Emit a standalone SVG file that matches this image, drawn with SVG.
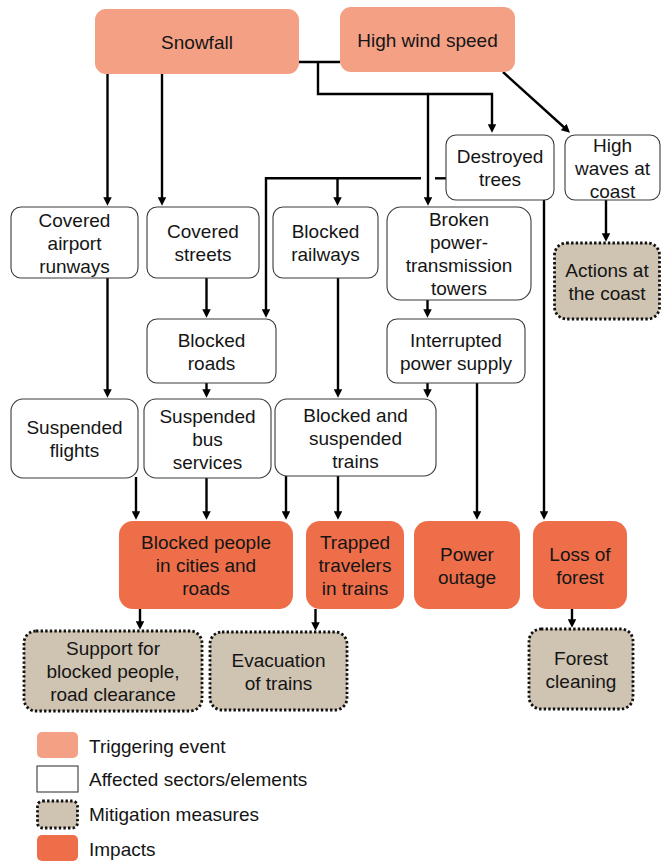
<svg xmlns="http://www.w3.org/2000/svg" width="661" height="863" viewBox="0 0 661 863">
  <style>
    text { font-family: "Liberation Sans", Arial, sans-serif; font-size: 19px; fill: #151515; text-anchor: middle; }
    .legend text { text-anchor: start; }
    .trigger { fill: #F4A085; }
    .affected { fill: #FFFFFF; stroke: #3a3a3a; stroke-width: 1.1; }
    .mitigation { fill: #CFC3B1; stroke: #111; stroke-width: 2.8; stroke-dasharray: 2.4 2.2; }
    .impact { fill: #EE6E4A; }
    .conn line, .conn polyline { fill: none; stroke: #000; stroke-width: 2.4; }
    .arrow { marker-end: url(#head); }
  </style>
  <defs>
    <marker id="head" viewBox="0 0 10 10" refX="4.4" refY="5" markerUnits="userSpaceOnUse" markerWidth="9" markerHeight="8.5" orient="auto">
      <path d="M0,0 L10,5 L0,10 z" fill="#000"/>
    </marker>
  </defs>

  <!-- connectors -->
  <g id="connectors" class="conn">
    <!-- Snowfall to the covered surfaces -->
    <line class="arrow" x1="107.5" y1="74" x2="107.5" y2="201"/>
    <line class="arrow" x1="162" y1="74" x2="162" y2="201"/>
    <!-- joint trigger bus -->
    <line x1="299" y1="62" x2="340" y2="62"/>
    <polyline class="arrow" points="318,62 318,94 492,94 492,128"/>
    <line class="arrow" x1="428" y1="94" x2="428" y2="201"/>
    <!-- wind to waves -->
    <line class="arrow" x1="503" y1="72" x2="566.5" y2="129.5"/>
    <!-- destroyed trees branch (with a jump over the tower line) -->
    <line x1="446" y1="178.3" x2="435" y2="178.3"/>
    <polyline class="arrow" points="421,178.3 266,178.3 266,313"/>
    <line class="arrow" x1="337.5" y1="178.3" x2="337.5" y2="201"/>
    <line class="arrow" x1="544" y1="200" x2="544" y2="515"/>
    <!-- waves to actions -->
    <line class="arrow" x1="606" y1="200" x2="606" y2="237"/>
    <!-- second row -->
    <line class="arrow" x1="107.5" y1="278" x2="107.5" y2="393"/>
    <line class="arrow" x1="206.5" y1="278" x2="206.5" y2="313"/>
    <line class="arrow" x1="338" y1="278" x2="338" y2="393"/>
    <line class="arrow" x1="427.5" y1="300" x2="427.5" y2="313"/>
    <line class="arrow" x1="206.5" y1="383" x2="206.5" y2="393"/>
    <line class="arrow" x1="427.5" y1="383" x2="427.5" y2="393"/>
    <line class="arrow" x1="477" y1="383" x2="477" y2="515"/>
    <!-- into impacts -->
    <line class="arrow" x1="136" y1="477" x2="136" y2="515"/>
    <line class="arrow" x1="206.5" y1="478" x2="206.5" y2="515"/>
    <line class="arrow" x1="286" y1="476" x2="286" y2="515"/>
    <line class="arrow" x1="338" y1="476" x2="338" y2="515"/>
    <!-- into mitigation -->
    <line class="arrow" x1="140" y1="609" x2="140" y2="625"/>
    <line class="arrow" x1="315.5" y1="609" x2="315.5" y2="626"/>
    <line class="arrow" x1="572" y1="609" x2="572" y2="623"/>
  </g>

  <!-- triggering events -->
  <g id="snowfall">
    <rect class="trigger" x="95" y="9" width="204" height="65" rx="11"/>
    <text x="197" y="49">Snowfall</text>
  </g>
  <g id="high-wind-speed">
    <rect class="trigger" x="340" y="7" width="175" height="65" rx="11"/>
    <text x="427.5" y="47">High wind speed</text>
  </g>

  <!-- affected sectors / elements -->
  <g id="destroyed-trees">
    <rect class="affected" x="446" y="135" width="108" height="65" rx="10"/>
    <text x="500" y="163">Destroyed</text>
    <text x="500" y="186">trees</text>
  </g>
  <g id="high-waves">
    <rect class="affected" x="565" y="135" width="95" height="65" rx="10"/>
    <text x="612.5" y="151.5">High</text>
    <text x="612.5" y="174.5">waves at</text>
    <text x="612.5" y="197.5">coast</text>
  </g>
  <g id="covered-runways">
    <rect class="affected" x="11" y="207" width="127" height="71" rx="10"/>
    <text x="74.5" y="226.5">Covered</text>
    <text x="74.5" y="249.5">airport</text>
    <text x="74.5" y="272.5">runways</text>
  </g>
  <g id="covered-streets">
    <rect class="affected" x="147" y="207" width="112" height="71" rx="10"/>
    <text x="203" y="238">Covered</text>
    <text x="203" y="261">streets</text>
  </g>
  <g id="blocked-railways">
    <rect class="affected" x="273" y="207" width="105" height="71" rx="10"/>
    <text x="325.5" y="238">Blocked</text>
    <text x="325.5" y="261">railways</text>
  </g>
  <g id="broken-towers">
    <rect class="affected" x="387" y="207" width="144" height="93" rx="14"/>
    <text x="459" y="226">Broken</text>
    <text x="459" y="249">power-</text>
    <text x="459" y="272">transmission</text>
    <text x="459" y="295">towers</text>
  </g>
  <g id="interrupted-power">
    <rect class="affected" x="387" y="319" width="138" height="64" rx="10"/>
    <text x="456" y="346.5">Interrupted</text>
    <text x="456" y="369.5">power supply</text>
  </g>
  <g id="blocked-roads">
    <rect class="affected" x="147" y="319" width="129" height="64" rx="10"/>
    <text x="211.5" y="346.5">Blocked</text>
    <text x="211.5" y="369.5">roads</text>
  </g>
  <g id="suspended-flights">
    <rect class="affected" x="11" y="399" width="127" height="79" rx="12"/>
    <text x="74.5" y="434">Suspended</text>
    <text x="74.5" y="457">flights</text>
  </g>
  <g id="suspended-bus">
    <rect class="affected" x="144" y="399" width="127" height="79" rx="12"/>
    <text x="207.5" y="422.5">Suspended</text>
    <text x="207.5" y="445.5">bus</text>
    <text x="207.5" y="468.5">services</text>
  </g>
  <g id="blocked-trains">
    <rect class="affected" x="275" y="399" width="161" height="77" rx="12"/>
    <text x="355.5" y="421.5">Blocked and</text>
    <text x="355.5" y="444.5">suspended</text>
    <text x="355.5" y="467.5">trains</text>
  </g>

  <!-- impacts -->
  <g id="blocked-people">
    <rect class="impact" x="119" y="521" width="174" height="88" rx="14"/>
    <text x="206" y="549">Blocked people</text>
    <text x="206" y="572">in cities and</text>
    <text x="206" y="595">roads</text>
  </g>
  <g id="trapped-travelers">
    <rect class="impact" x="306" y="521" width="98" height="88" rx="14"/>
    <text x="355" y="549">Trapped</text>
    <text x="355" y="572">travelers</text>
    <text x="355" y="595">in trains</text>
  </g>
  <g id="power-outage">
    <rect class="impact" x="414" y="521" width="106" height="88" rx="14"/>
    <text x="467" y="560.5">Power</text>
    <text x="467" y="583.5">outage</text>
  </g>
  <g id="loss-of-forest">
    <rect class="impact" x="533" y="521" width="94" height="88" rx="14"/>
    <text x="580" y="560.5">Loss of</text>
    <text x="580" y="583.5">forest</text>
  </g>

  <!-- mitigation measures -->
  <g id="actions-coast">
    <rect class="mitigation" x="554.5" y="243" width="105" height="76" rx="12"/>
    <text x="607" y="276.5">Actions at</text>
    <text x="607" y="299.5">the coast</text>
  </g>
  <g id="support-blocked">
    <rect class="mitigation" x="24" y="631" width="178" height="80" rx="12"/>
    <text x="113" y="655">Support for</text>
    <text x="113" y="678">blocked people,</text>
    <text x="113" y="701">road clearance</text>
  </g>
  <g id="evacuation-trains">
    <rect class="mitigation" x="210" y="632" width="137" height="78" rx="12"/>
    <text x="278.5" y="666.5">Evacuation</text>
    <text x="278.5" y="689.5">of trains</text>
  </g>
  <g id="forest-cleaning">
    <rect class="mitigation" x="529" y="629" width="104" height="80" rx="12"/>
    <text x="581" y="664.5">Forest</text>
    <text x="581" y="687.5">cleaning</text>
  </g>

  <!-- legend -->
  <g id="legend" class="legend">
    <rect class="trigger" x="37" y="732" width="41" height="26" rx="5"/>
    <text x="89" y="753">Triggering event</text>
    <rect class="affected" x="37" y="766" width="41" height="26"/>
    <text x="89" y="786">Affected sectors/elements</text>
    <rect class="mitigation" x="37.5" y="801" width="40" height="27" rx="5"/>
    <text x="89" y="821">Mitigation measures</text>
    <rect class="impact" x="37" y="835" width="41" height="26" rx="5"/>
    <text x="89" y="856">Impacts</text>
  </g>
</svg>
